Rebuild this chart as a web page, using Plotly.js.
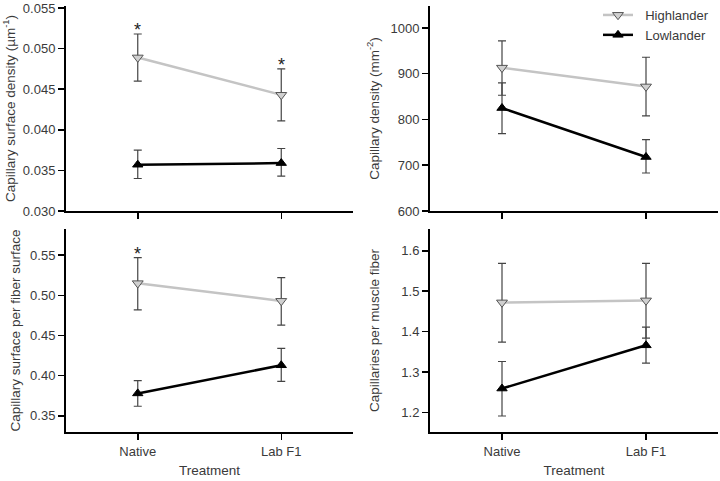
<!DOCTYPE html>
<html>
<head>
<meta charset="utf-8">
<script src="https://cdn.plot.ly/plotly-3.0.1.min.js"></script>
<style>html,body{margin:0;padding:0;background:#fff;}#chart{width:720px;height:481px;}</style>
</head>
<body>
<div id="chart"></div>
<script>
// Categories
const treatments = ["Native", "Lab F1"];
const groups = ["Highlander", "Lowlander"];

// Panel A: Capillary surface density (µm^-1)
const surfDensHigh = [0.0489, 0.0443];
const surfDensHighErrUp = [0.0518, 0.0475];
const surfDensHighErrLo = [0.0460, 0.0411];
const surfDensLow = [0.0357, 0.0359];
const surfDensLowErrUp = [0.0375, 0.0377];
const surfDensLowErrLo = [0.0340, 0.0343];
const surfDensSig = [true, true];

// Panel B: Capillary density (mm^-2)
const capDensHigh = [913, 872];
const capDensHighErrUp = [972, 936];
const capDensHighErrLo = [853, 808];
const capDensLow = [825, 718];
const capDensLowErrUp = [880, 756];
const capDensLowErrLo = [769, 683];
const capDensSig = [false, false];

// Panel C: Capillary surface per fiber surface
const surfFibHigh = [0.515, 0.493];
const surfFibHighErrUp = [0.547, 0.522];
const surfFibHighErrLo = [0.482, 0.463];
const surfFibLow = [0.378, 0.413];
const surfFibLowErrUp = [0.394, 0.434];
const surfFibLowErrLo = [0.362, 0.393];
const surfFibSig = [true, false];

// Panel D: Capillaries per muscle fiber
const capFibHigh = [1.472, 1.477];
const capFibHighErrUp = [1.569, 1.569];
const capFibHighErrLo = [1.374, 1.384];
const capFibLow = [1.259, 1.366];
const capFibLowErrUp = [1.326, 1.411];
const capFibLowErrLo = [1.191, 1.322];
const capFibSig = [false, false];

const xIdx = treatments.map((_, i) => i);
const highColor = "#c4c4c4";
const lowColor = "#000000";
const errColor = "#444444";
const textColor = "#3a3a3a";

function errArr(v, up, lo) {
  return {
    type: "data", symmetric: false,
    array: up.map((u, i) => u - v[i]),
    arrayminus: lo.map((l, i) => v[i] - l),
    color: errColor, thickness: 1.2, width: 4
  };
}

const panels = [
  {h: surfDensHigh, hu: surfDensHighErrUp, hl: surfDensHighErrLo, l: surfDensLow, lu: surfDensLowErrUp, ll: surfDensLowErrLo, sig: surfDensSig, xa: "x", ya: "y"},
  {h: capDensHigh, hu: capDensHighErrUp, hl: capDensHighErrLo, l: capDensLow, lu: capDensLowErrUp, ll: capDensLowErrLo, sig: capDensSig, xa: "x2", ya: "y2"},
  {h: surfFibHigh, hu: surfFibHighErrUp, hl: surfFibHighErrLo, l: surfFibLow, lu: surfFibLowErrUp, ll: surfFibLowErrLo, sig: surfFibSig, xa: "x3", ya: "y3"},
  {h: capFibHigh, hu: capFibHighErrUp, hl: capFibHighErrLo, l: capFibLow, lu: capFibLowErrUp, ll: capFibLowErrLo, sig: capFibSig, xa: "x4", ya: "y4"}
];

const traces = [];
const annotations = [];
panels.forEach((p, k) => {
  traces.push({
    x: xIdx, y: p.l, xaxis: p.xa, yaxis: p.ya, type: "scatter", mode: "lines+markers",
    name: "\u00a0\u00a0" + groups[1], showlegend: k === 1, legendrank: 2,
    line: {color: lowColor, width: 2.5},
    marker: {symbol: "triangle-up", size: 9, color: lowColor, line: {color: lowColor, width: 1}},
    error_y: errArr(p.l, p.lu, p.ll)
  });
  traces.push({
    x: xIdx, y: p.h, xaxis: p.xa, yaxis: p.ya, type: "scatter", mode: "lines+markers",
    name: "\u00a0\u00a0" + groups[0], showlegend: k === 1, legendrank: 1,
    line: {color: highColor, width: 2.5},
    marker: {symbol: "triangle-down", size: 9.5, color: "#d0d0d0", line: {color: "#555555", width: 1}},
    error_y: errArr(p.h, p.hu, p.hl)
  });
  p.sig.forEach((s, i) => {
    if (s) {
      annotations.push({
        x: xIdx[i], y: p.hu[i], xref: p.xa, yref: p.ya, text: "*", showarrow: false,
        yanchor: "bottom", yshift: -8, font: {size: 18, color: "#222", family: "Liberation Sans, Arial, sans-serif"}
      });
    }
  });
});

const font = {family: "Liberation Sans, Arial, sans-serif", size: 13, color: textColor};
const titleFont = {family: "Liberation Sans, Arial, sans-serif", size: 13.5, color: textColor};

function xAxis(domain, labels, anchor) {
  const ax = {
    domain: domain, anchor: anchor, range: [-0.5, 1.5],
    tickmode: "array", tickvals: xIdx, ticktext: treatments,
    showticklabels: labels, ticks: "outside", ticklen: 6, tickwidth: 1.5, tickcolor: "#000",
    showline: true, linecolor: "#000", linewidth: 2, showgrid: false, zeroline: false,
    tickfont: font, fixedrange: true
  };
  if (labels) ax.title = {text: "Treatment", font: titleFont, standoff: 8};
  return ax;
}
function yAxis(domain, range, dtick, fmt, title, anchor, standoff) {
  return {
    domain: domain, anchor: anchor, range: range, dtick: dtick, tick0: 0, tickformat: fmt,
    ticks: "outside", ticklen: 6, tickwidth: 1.5, tickcolor: "#000",
    showline: true, linecolor: "#000", linewidth: 2, showgrid: false, zeroline: false,
    title: {text: title, font: titleFont, standoff: standoff}, tickfont: font, fixedrange: true
  };
}

const xdL = [66/720, 353/720], xdR = [430/720, 718/720];
const ydT = [1 - 211/481, 1 - 6/481], ydB = [1 - 432/481, 1 - 229/481];

const layout = {
  width: 720, height: 481,
  margin: {l: 0, r: 0, t: 0, b: 0},
  paper_bgcolor: "#fff", plot_bgcolor: "#fff",
  font: font,
  xaxis: xAxis(xdL, false, "y"),
  yaxis: yAxis(ydT, [0.030, 0.05525], 0.005, ".3f", "Capillary surface density (\u00b5m<sup>-1</sup>)", "x", 10),
  xaxis2: xAxis(xdR, false, "y2"),
  yaxis2: yAxis(ydT, [600, 1048], 100, "d", "Capillary density (mm<sup>-2</sup>)", "x2", 8),
  xaxis3: xAxis(xdL, true, "y3"),
  yaxis3: yAxis(ydB, [0.330, 0.5825], 0.05, ".2f", "Capillary surface per fiber surface", "x3", 6),
  xaxis4: xAxis(xdR, true, "y4"),
  yaxis4: yAxis(ydB, [1.1514, 1.654], 0.1, ".1f", "Capillaries per muscle fiber", "x4", 19),
  showlegend: true,
  legend: {
    x: 598/720, y: 1.0, xanchor: "left", yanchor: "top",
    bgcolor: "rgba(0,0,0,0)", font: {family: font.family, size: 13, color: textColor},
    tracegroupgap: 0, itemwidth: 30
  },
  annotations: annotations
};

Plotly.newPlot("chart", traces, layout, {displayModeBar: false, staticPlot: true});
</script>
</body>
</html>
